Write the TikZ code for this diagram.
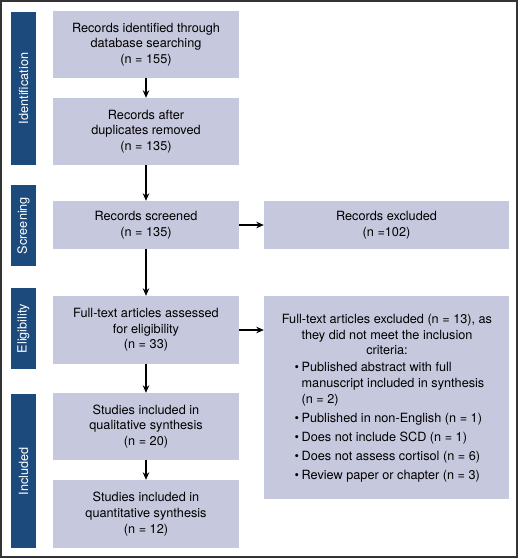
\documentclass[tikz,border=0pt]{standalone}
\usepackage{fontspec}
\setmainfont{TeX Gyre Heros}
\usetikzlibrary{arrows.meta}
\definecolor{barblue}{HTML}{1C4A7D}
\definecolor{boxfill}{HTML}{C6C8DD}
\definecolor{framegray}{HTML}{333333}
\begin{document}
\begin{tikzpicture}[x=1pt,y=-1pt,
  box/.style={fill=boxfill, draw=none, align=center, inner sep=0pt,
    font=\fontsize{12.7}{15.7}\selectfont},
  lbl/.style={align=center, inner sep=0pt, font=\fontsize{12.7}{15.7}\selectfont},
  bar/.style={fill=barblue, draw=none, text=white, rotate=90, inner sep=0pt,
    minimum height=25pt, font=\fontsize{12.7}{15}\selectfont},
  arr/.style={-{Stealth[length=7.5pt,width=6.5pt]}, line width=1.1pt, black}]
\useasboundingbox (0,0) rectangle (520,559);
\draw[framegray, line width=1.5pt] (1,1) rectangle (517,557);

% side bars
\node[bar, minimum width=153pt] (pid) at (23.5,88.5) {Identification};
\node[bar, minimum width=81pt] (psc) at (23.5,225.5) {Screening};
\node[bar, minimum width=81pt] (pel) at (23.5,328.5) {Eligibility};
\node[bar, minimum width=154pt] (pin) at (23.5,471) {Included};

% left column
\node[box, minimum width=186pt, minimum height=67pt] (b1) at (146,44.5)
  {Records identified through\\database searching\\(n~=~155)};
\node[box, minimum width=186pt, minimum height=67pt] (b2) at (146,131.5)
  {Records after\\duplicates removed\\(n~=~135)};
\node[box, minimum width=186pt, minimum height=48pt] (b3) at (146,225)
  {Records screened\\(n~=~135)};
\node[box, minimum width=186pt, minimum height=68pt] (b4) at (146,330)
  {Full-text articles assessed\\for eligibility\\(n~=~33)};
\node[box, minimum width=186pt, minimum height=67pt] (b5) at (146,426.5)
  {Studies included in\\qualitative synthesis\\(n~=~20)};
\node[box, minimum width=186pt, minimum height=68pt] (b6) at (146,514)
  {Studies included in\\quantitative synthesis\\(n~=~12)};

% right column
\node[box, minimum width=245pt, minimum height=48pt] (r1) at (386.5,225)
  {Records excluded\\(n~=102)};
\node[box, minimum width=245pt, minimum height=203pt] (r2) at (386.5,397.5) {};
\node[lbl] (r2head) at (387,334.5)
  {Full-text articles excluded (n~=~13), as\\they did not meet the inclusion\\criteria:};
\node[lbl, anchor=north west, align=left] (r2list) at (294.5,360.5)
  {\begin{tabular}{@{}l@{\hspace{2.5pt}}l@{}}
   •& Published abstract with full\\
    & manuscript included in synthesis\\
    & (n~=~2)\\[3.5pt]
   •& Published in non-English (n~=~1)\\[3.5pt]
   •& Does not include SCD (n~=~1)\\[3.5pt]
   •& Does not assess cortisol (n~=~6)\\[3.5pt]
   •& Review paper or chapter (n~=~3)
   \end{tabular}};

% connectors
\draw[arr] (b1) -- (b2);
\draw[arr] (b2) -- (b3);
\draw[arr] (b3) -- (b4);
\draw[arr] (b4) -- (b5);
\draw[arr] (b5) -- (b6);
\draw[arr] (b3.east) -- (r1.west);
\draw[arr] (b4.east) -- (b4.east -| r2.west);
\end{tikzpicture}
\end{document}
